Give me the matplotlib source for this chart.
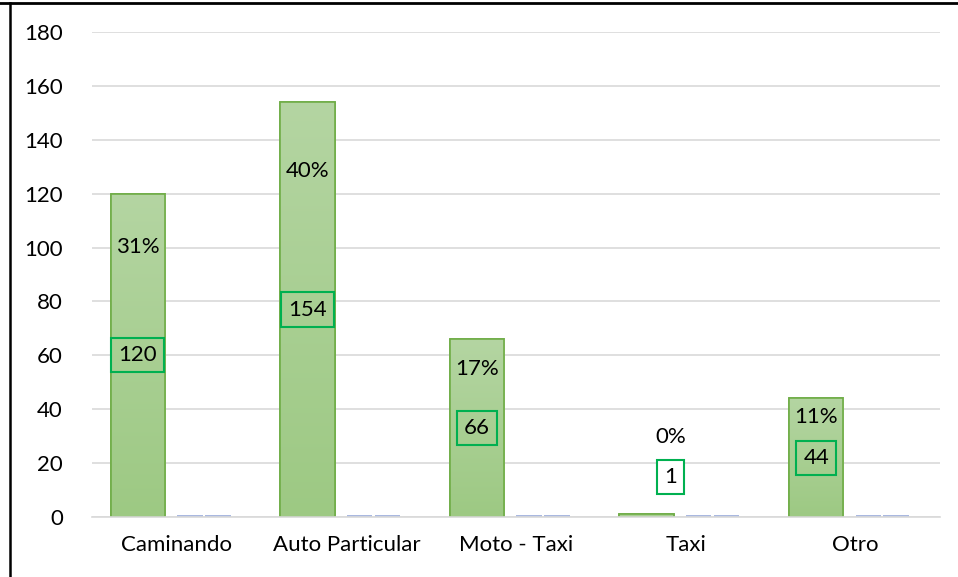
import matplotlib
matplotlib.use("Agg")
import matplotlib.pyplot as plt
import numpy as np
from matplotlib.lines import Line2D
from matplotlib.patches import Rectangle
from matplotlib.colors import LinearSegmentedColormap

categories = ["Caminando", "Auto Particular", "Moto - Taxi", "Taxi", "Otro"]
counts = [120, 154, 66, 1, 44]
pct_labels = ["31%", "40%", "17%", "0%", "11%"]
pct_values = [0.31, 0.40, 0.17, 0.003, 0.11]
yticks = [0, 20, 40, 60, 80, 100, 120, 140, 160, 180]

plt.rcParams['font.family'] = ['Lato', 'DejaVu Sans']
FS = 16
fig = plt.figure(figsize=(9.58, 5.77), dpi=100)
ax = fig.add_axes([92/958, 1-517/577, 848/958, 485/577])
ax.set_xlim(-0.5, 4.5)
ax.set_ylim(0, 180)

x = np.arange(len(categories))
w_main = 0.32
off_main = -0.23
w_small = 0.155
off_s1, off_s2 = 0.077, 0.242

grad = np.linspace(0, 1, 256).reshape(-1, 1)
cmap = LinearSegmentedColormap.from_list("g", ["#9dc983", "#b4d5a2"])
bars = ax.bar(x + off_main, counts, width=w_main, color="#a9d08e",
              edgecolor="#70ad47", linewidth=1.2, zorder=2)
for b in bars:
    x0, y0 = b.get_x(), b.get_y()
    bw, bh = b.get_width(), b.get_height()
    im = ax.imshow(grad, extent=[x0, x0 + bw, y0, y0 + bh], aspect='auto',
                   cmap=cmap, origin='lower', zorder=2.1)
    im.set_clip_path(b)
    ax.add_patch(Rectangle((x0, y0), bw, bh, fill=False, edgecolor="#70ad47",
                           linewidth=1.2, zorder=2.2))

small = [max(v, 0.6) for v in pct_values]
ax.bar(x + off_s1, small, width=w_small * 0.97,
       color="#a9b8e0", edgecolor="none", zorder=2.5)
ax.bar(x + off_s2, small, width=w_small * 0.97,
       color="#a9b8e0", edgecolor="none", zorder=2.5)

for i, v in enumerate(counts):
    yv = max(v / 2, 14.8)
    yp = max(v * 0.835, yv + 15)
    lx = x[i] + off_main + (0.14 if v < 10 else 0)
    ax.text(lx, yv, str(v), ha="center", va="center", fontsize=FS,
            color="#000000", zorder=5,
            bbox=dict(boxstyle="square,pad=0.32", fc="none" if v > 10 else "white",
                      ec="#00b050", lw=1.5))
    ax.text(lx, yp, pct_labels[i], ha="center", va="center",
            fontsize=FS, color="#000000", zorder=5)

ax.set_yticks(yticks)
ax.set_xticks(x)
ax.set_xticklabels(categories, fontsize=FS)
ax.tick_params(axis='y', labelsize=FS, length=0, pad=21)
ax.tick_params(axis='x', length=0, pad=13)
ax.grid(axis='y', color="#d9d9d9", linewidth=1.2, zorder=0)
ax.set_axisbelow(True)
for s in ["left", "right", "top"]:
    ax.spines[s].set_visible(False)
ax.spines["bottom"].set_color("#d9d9d9")
ax.spines["bottom"].set_linewidth(1.2)

fig.add_artist(Line2D([0, 1], [1 - 3/577, 1 - 3/577], color="black", lw=2,
                      transform=fig.transFigure))
fig.add_artist(Line2D([10/958, 10/958], [0, 1 - 3/577], color="black", lw=1.8,
                      transform=fig.transFigure))

fig.savefig("out.png", dpi=100)
